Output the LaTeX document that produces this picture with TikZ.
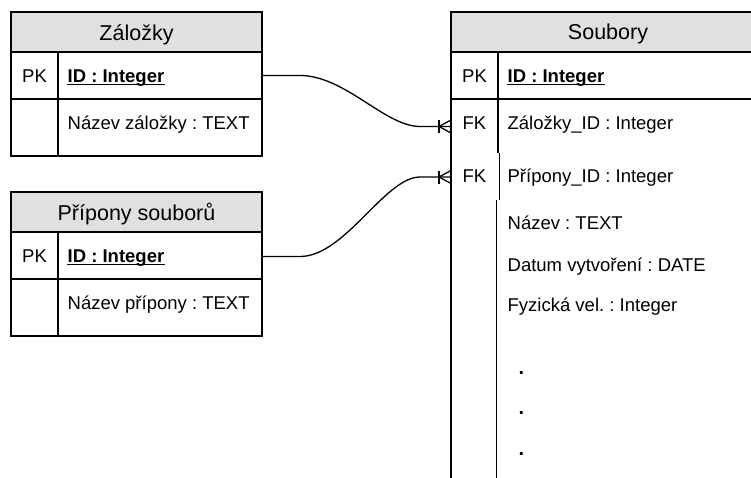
\documentclass[tikz,border=0pt]{standalone}
\usepackage{fontspec}
\setmainfont{Liberation Sans}
\usetikzlibrary{calc}
\definecolor{hdrgray}{RGB}{224,224,224}
\frenchspacing

\begin{document}
\begin{tikzpicture}[x=1pt, y=-1pt, line width=1.3pt,
	every node/.style={inner sep=0pt},
	titletxt/.style={anchor=base, font=\fontsize{21.5}{24}\selectfont},
	keytxt/.style={anchor=base, font=\fontsize{18.5}{22}\selectfont},
	fieldtxt/.style={anchor=base west, font=\fontsize{18.5}{22}\selectfont},
	idtxt/.style={anchor=base west, font=\fontsize{18.5}{22}\selectfont\bfseries},
	dottxt/.style={anchor=base west, font=\fontsize{20}{22}\selectfont\bfseries}]

	% Canvas
	\useasboundingbox (0,0) rectangle (751,477);
	\clip (0,0) rectangle (751,477);

	% Table Zalozky
	\draw[fill=hdrgray] (11,12) rectangle (262,52);
	\draw (11,52) rectangle (262,156);
	\draw (11,99) -- (262,99);
	\draw (58,52) -- (58,156);
	\node[titletxt] (zal-title) at (136.5,40) {Záložky};
	\node[keytxt] (zal-pk) at (34.5,82) {PK};
	\node[idtxt] (zal-id) at (67,82) {ID : Integer};
	\draw ([yshift=-2.6pt]zal-id.base west) -- ([yshift=-2.6pt]zal-id.base east);
	\node[fieldtxt] (zal-name) at (67,129) {Název záložky : TEXT};
	\coordinate (zal-out) at (262,75.5);

	% Table Pripony souboru
	\draw[fill=hdrgray] (11,192) rectangle (262,232);
	\draw (11,232) rectangle (262,336);
	\draw (11,279) -- (262,279);
	\draw (58,232) -- (58,336);
	\node[titletxt] (prip-title) at (136.5,220) {Přípony souborů};
	\node[keytxt] (prip-pk) at (34.5,262) {PK};
	\node[idtxt] (prip-id) at (67,262) {ID : Integer};
	\draw ([yshift=-2.6pt]prip-id.base west) -- ([yshift=-2.6pt]prip-id.base east);
	\node[fieldtxt] (prip-name) at (67,309) {Název přípony : TEXT};
	\coordinate (prip-out) at (262,256.5);

	% Table Soubory
	\draw[fill=hdrgray] (451,12) rectangle (765,52);
	\draw (451,99) -- (765,99);
	\draw (451,52) -- (451,480);
	\draw (498,52) -- (498,153);
	\draw (499.5,153) -- (499.5,200);
	\draw (496.5,200) -- (496.5,480);
	\node[titletxt] (sou-title) at (608,39.5) {Soubory};
	\node[keytxt] (sou-pk) at (474.5,82) {PK};
	\node[idtxt] (sou-id) at (507,82) {ID : Integer};
	\draw ([yshift=-2.6pt]sou-id.base west) -- ([yshift=-2.6pt]sou-id.base east);
	\node[keytxt] (sou-fkz) at (474.5,129) {FK};
	\node[fieldtxt] (sou-zal) at (507,129) {Záložky\_ID : Integer};
	\node[keytxt] (sou-fkp) at (474.5,182) {FK};
	\node[fieldtxt] (sou-prip) at (507,182) {Přípony\_ID : Integer};
	\node[fieldtxt] (sou-name) at (507,229) {Název : TEXT};
	\node[fieldtxt] (sou-date) at (507,271) {Datum vytvoření : DATE};
	\node[fieldtxt] (sou-size) at (507,311) {Fyzická vel. : Integer};
	\foreach \y [count=\i] in {374,414,455.5}
		\node[dottxt] (sou-dot\i) at (518,\y) {.};
	\coordinate (sou-fk1) at (451,126.5);
	\coordinate (sou-fk2) at (451,177);

	% Relations
	\draw (zal-out) -- ++(38,0) .. controls +(45,0) and +(-35,0) .. ($(sou-fk1)+(-31,0)$) -- (sou-fk1);
	\draw (prip-out) -- ++(38,0) .. controls +(45,0) and +(-35,0) .. ($(sou-fk2)+(-31,0)$) -- (sou-fk2);
	\foreach \fk in {sou-fk1,sou-fk2}{
		\draw ($(\fk)+(-12,-6.5)$) -- ($(\fk)+(-12,6.5)$);
		\draw ($(\fk)+(0,-6.5)$) -- ($(\fk)+(-12,0)$) -- ($(\fk)+(0,6.5)$);
	}

\end{tikzpicture}
\end{document}
